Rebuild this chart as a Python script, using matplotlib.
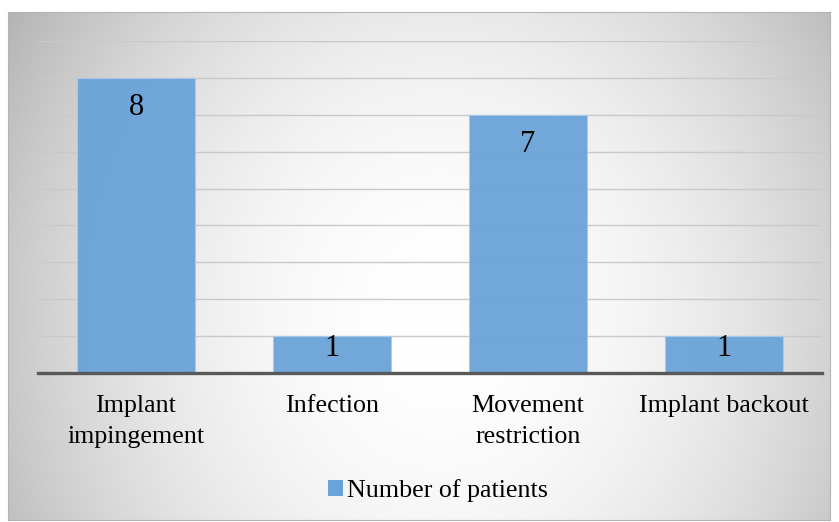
import numpy as np
import matplotlib
matplotlib.use("Agg")
import matplotlib.pyplot as plt
from matplotlib.patches import Patch

categories = ["Implant\nimpingement", "Infection", "Movement\nrestriction", "Implant backout"]
patients = [8, 1, 7, 1]
series_name = "Number of patients"
y_max = 9

bar_color = "#6aa3d8"
serif = ["Liberation Serif", "DejaVu Serif"]

W, H = 839, 522
fig = plt.figure(figsize=(W / 100, H / 100), dpi=100)
fig.patch.set_facecolor("white")

# Chart area with a soft radial grey-to-white fill
fx0, fx1, fy0, fy1 = 8, 830, 12, 520
bg = fig.add_axes([fx0 / W, 1 - fy1 / H, (fx1 - fx0) / W, (fy1 - fy0) / H])
xs = np.arange(fx0, fx1)
ys = np.arange(fy0, fy1)
X, Y = np.meshgrid(xs, ys)
cx, cy = 440, 320
v = 1 - 0.2 * ((X - cx) / 420) ** 2 - 0.08 * ((Y - cy) / 300) ** 2
v = np.clip(v, 0, 1)
bg.imshow(np.dstack([v, v, v]), aspect="auto", interpolation="bilinear",
          extent=[0, 1, 0, 1])
bg.set_xlim(0, 1)
bg.set_ylim(0, 1)
bg.set_xticks([])
bg.set_yticks([])
for s in bg.spines.values():
    s.set_color("#b4b4b4")
    s.set_linewidth(0.8)

# Plot area
ax = fig.add_axes([38 / W, 1 - 373 / H, 784 / W, 332 / H])
ax.patch.set_alpha(0)
x = np.arange(len(categories))
ax.set_xlim(-0.5, len(categories) - 0.5)
ax.set_ylim(0, y_max)

for g in range(1, y_max + 1):
    ax.axhline(g, color="#c9c9c9", lw=1.0, zorder=1)

ax.bar(x, patients, width=0.6, color=bar_color, alpha=0.95,
       edgecolor="#a9cbec", linewidth=0.8, zorder=2)
ax.axhline(0, color="#595959", lw=2.4, zorder=3, clip_on=False)

for xi, val in zip(x, patients):
    ax.text(xi, max(val - 1.01, 0.45), str(val), ha="center", va="baseline",
            fontsize=22, family=serif, color="black", zorder=4)

ax.set_xticks(x)
ax.set_xticklabels(categories, family=serif, fontsize=18.7, color="black",
                   linespacing=1.55)
ax.tick_params(axis="x", length=0, pad=15.5)
ax.set_yticks([])
for s in ax.spines.values():
    s.set_visible(False)

handle = Patch(facecolor=bar_color, edgecolor="none")
fig.legend([handle], [series_name], loc="center",
           bbox_to_anchor=(438 / W, 1 - 491 / H), frameon=False,
           prop={"family": serif, "size": 18.7}, handlelength=0.55,
           handleheight=0.55, handletextpad=0.15)

fig.savefig("out.png", dpi=100)
